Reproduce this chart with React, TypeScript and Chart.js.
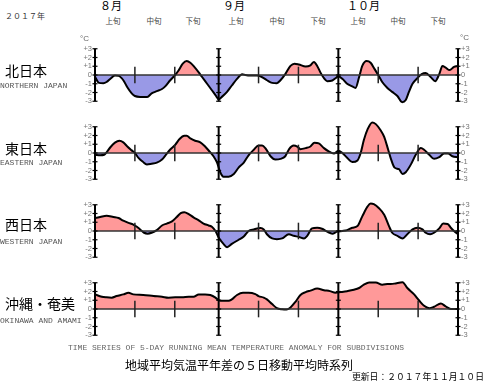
import React, { useEffect, useRef } from 'react';
import { Chart, registerables } from 'chart.js';

Chart.register(...registerables);

// ---- axis / marker data (day index: 0 = Aug 1, 91 = Oct 31) ----
const monthLines = [0, 31, 61, 91];
const decadeLines = [10, 20, 41, 51, 71, 81];
const yTicks = [-3, -2, -1, 0, 1, 2, 3];

// ---- 北日本 ----
const northDays = [0, 1.0, 2.1, 2.9, 3.8, 5.0, 5.9, 7.1, 8.1, 9.2, 10.0, 11.3, 13.1, 14.2, 15.5, 16.8, 17.6, 18.8, 20.1, 20.9, 22.0, 23.0, 23.9, 24.9, 26.0, 26.8, 28.1, 29.3, 30.2, 31.0, 31.8, 33.1, 34.3, 35.6, 36.9, 37.7, 38.9, 40.6, 41.9, 43.1, 44.4, 45.6, 46.5, 47.7, 49.0, 50.0, 51.1, 52.8, 54.0, 54.9, 55.7, 56.5, 57.4, 58.2, 59.5, 60.3, 61.0, 62.0, 63.2, 64.5, 65.3, 66.2, 67.0, 68.1, 69.1, 70.1, 71.0, 72.0, 73.3, 74.5, 75.8, 77.0, 77.9, 78.7, 79.6, 80.8, 81.9, 82.9, 84.2, 85.3, 86.3, 87.1, 87.9, 88.9, 90.0, 91];
const northVals = [-0.2, -0.9, -0.93, -0.8, -0.45, -0.07, -0.1, -0.6, -1.4, -2.1, -2.4, -2.5, -2.5, -2.1, -1.85, -1.6, -1.3, -0.63, 0, 0.48, 1.3, 1.6, 1.4, 0.93, 0.3, -0.2, -1.0, -1.74, -2.3, -2.78, -2.5, -1.93, -1.2, -0.44, 0.1, 0, -0.07, -0.07, -0.26, -0.6, -0.9, -0.93, -0.6, 0.1, 1.04, 1.3, 1.2, 0.96, 1.1, 1.5, 1.04, 0.3, -0.37, -0.7, -0.63, -0.37, -0.15, -0.44, -1.0, -1.3, -1.48, -0.26, 1.04, 1.6, 1.4, 0.67, 0, -0.8, -1.48, -1.93, -2.4, -3.1, -2.85, -1.93, -1.0, -0.37, 0.1, 0.22, -0.26, -0.7, 0.1, 1.04, 0.85, 0.56, 0.93, 1.04];

// ---- 東日本 ----
const eastDays = [0, 1.3, 2.3, 2.9, 3.8, 5.0, 6.1, 7.1, 8.1, 9.2, 10.0, 10.9, 12.0, 13.0, 14.2, 15.5, 16.8, 17.8, 18.8, 20.1, 21.2, 22.4, 23.0, 23.9, 25.1, 26.4, 27.6, 28.7, 29.7, 30.6, 31.4, 32.2, 33.5, 34.8, 36.0, 37.3, 38.5, 39.8, 41.0, 41.9, 42.7, 44.0, 45.2, 46.5, 47.7, 48.7, 49.8, 50.7, 51.5, 52.8, 54.0, 55.0, 56.1, 57.4, 58.6, 59.9, 61.0, 62.0, 63.2, 64.5, 65.8, 66.6, 67.4, 68.4, 69.5, 70.4, 71.6, 72.5, 73.5, 74.1, 75.1, 76.2, 77.1, 77.9, 79.2, 80.4, 81.7, 82.5, 83.8, 85.0, 86.3, 87.5, 88.5, 89.6, 91];
const eastVals = [-0.2, -0.26, -0.2, 0.07, 0.63, 1.18, 1.4, 1.22, 0.74, 0.3, 0, -0.55, -1.0, -1.3, -1.22, -1.1, -0.74, -0.19, 0.37, 0.93, 1.6, 1.96, 1.96, 1.67, 1.4, 1.22, 0.74, 0.18, -0.37, -1.1, -2.2, -2.7, -2.7, -2.4, -1.67, -1.1, -0.26, 0.37, 0.85, 0.85, 0.56, -0.37, -0.74, -0.67, -0.37, 0.48, 0.85, 0.74, 0.44, 0.56, 0.74, 1.18, 1.1, 0.56, 0.18, -0.07, 0.26, 0, -0.55, -1.04, -0.85, 0, 1.48, 2.78, 3.5, 3.3, 2.6, 1.85, 0.37, -0.55, -1.67, -1.85, -2.4, -2.2, -1.3, -0.2, 0.56, 0.37, -0.2, -0.67, -0.48, -0.07, -0.07, -0.37, -0.48];

// ---- 西日本 ----
const westDays = [0, 1.3, 2.9, 4.6, 5.9, 7.1, 8.4, 9.6, 10.5, 11.3, 12.3, 13.2, 14.2, 15.5, 16.8, 18.0, 19.3, 20.5, 21.5, 22.4, 23.5, 24.7, 26.0, 27.2, 28.5, 29.3, 30.2, 31.0, 32.2, 33.1, 34.3, 36.0, 37.3, 38.5, 39.8, 41.5, 42.3, 43.1, 44.4, 45.6, 46.9, 48.6, 49.8, 51.1, 52.4, 53.2, 54.4, 55.7, 56.9, 58.2, 59.5, 60.7, 62.0, 63.2, 64.5, 65.8, 67.0, 68.3, 69.1, 69.9, 71.2, 72.5, 73.7, 74.5, 75.8, 77.1, 78.3, 79.6, 80.8, 82.1, 82.9, 84.0, 85.0, 86.3, 87.3, 88.4, 89.2, 90.0, 91];
const westVals = [1.48, 1.6, 1.74, 1.6, 1.48, 1.18, 0.93, 0.74, 0.48, 0.18, -0.2, -0.3, -0.2, 0.1, 0.63, 0.85, 1.1, 1.6, 2.04, 2.15, 1.93, 1.56, 1.22, 0.85, 0.63, 0.48, 0, -0.74, -1.48, -1.85, -1.48, -1.0, -0.63, 0, 0.18, 0.33, 0.18, -0.37, -0.85, -0.93, -0.85, -0.37, -0.55, -0.67, -0.85, -0.55, 0.3, 0.37, 0.26, -0.07, -0.3, -0.07, 0, 0.1, 0.37, 0.56, 1.67, 2.78, 3.15, 3.07, 2.6, 1.85, 0.56, -0.2, -0.55, -0.85, -0.37, 0.18, 0.37, 0.18, -0.2, -0.37, -0.2, 0.3, 0.85, 0.81, 0.37, 0, -0.37];

// ---- 沖縄・奄美 ----
const okiDays = [0, 1.7, 2.9, 4.2, 5.4, 7.1, 8.4, 9.6, 12.1, 14.7, 16.8, 18.4, 20.1, 21.8, 23.5, 24.7, 26.0, 27.6, 28.9, 30.2, 31.0, 32.2, 33.5, 34.3, 35.6, 37.1, 38.5, 40.2, 41.0, 42.3, 43.1, 44.4, 45.6, 46.9, 48.0, 49.0, 50.3, 51.5, 52.8, 54.0, 55.7, 57.4, 58.9, 60.3, 61.6, 63.2, 64.9, 66.2, 67.4, 68.7, 70.4, 72.0, 73.3, 75.0, 77.1, 78.3, 80.0, 81.2, 82.5, 83.8, 85.0, 86.7, 87.9, 89.2, 91];
const okiVals = [1.67, 1.4, 1.33, 1.3, 1.48, 1.67, 1.85, 1.67, 1.6, 1.48, 1.4, 1.3, 1.33, 1.33, 1.4, 1.4, 1.67, 1.67, 1.6, 1.3, 1.0, 0.93, 0.93, 1.1, 1.6, 1.85, 1.85, 1.7, 1.48, 1.3, 1.1, 0.56, 0.1, -0.04, -0.07, 0.18, 0.85, 1.6, 1.93, 2.1, 2.33, 2.15, 2.04, 1.85, 1.93, 2.04, 2.2, 2.4, 2.78, 3.04, 3.04, 2.78, 2.85, 2.9, 3.07, 2.4, 1.67, 1.0, 0.37, 0.1, 0.26, 0.63, 0.3, 0, 0];

const jpFont = '"Noto Sans CJK JP", sans-serif';
const monoFont = '"Liberation Mono", "DejaVu Sans Mono", monospace';
const sansFont = '"Liberation Sans", "DejaVu Sans", sans-serif';

const decoPlugin = {
  id: 'deco',
  afterDatasetsDraw(chart: any) {
    const { ctx, scales } = chart;
    const x = scales.x;
    const y = scales.y;
    const y0 = y.getPixelForValue(0);
    ctx.save();
    ctx.strokeStyle = '#333';
    ctx.lineWidth = 1.5;
    ctx.beginPath();
    ctx.moveTo(x.getPixelForValue(monthLines[0]), y0);
    ctx.lineTo(x.getPixelForValue(monthLines[monthLines.length - 1]), y0);
    ctx.stroke();

    ctx.strokeStyle = '#222';
    ctx.lineWidth = 1.5;
    decadeLines.forEach((d) => {
      const px = x.getPixelForValue(d);
      ctx.beginPath();
      ctx.moveTo(px, y.getPixelForValue(0.95));
      ctx.lineTo(px, y.getPixelForValue(-0.95));
      ctx.stroke();
    });

    ctx.strokeStyle = '#000';
    monthLines.forEach((d) => {
      const px = x.getPixelForValue(d);
      ctx.lineWidth = 2;
      ctx.beginPath();
      ctx.moveTo(px, y.getPixelForValue(3));
      ctx.lineTo(px, y.getPixelForValue(-3));
      ctx.stroke();
      ctx.lineWidth = 1.2;
      yTicks.forEach((t) => {
        const py = y.getPixelForValue(t);
        ctx.beginPath();
        ctx.moveTo(px - 2.5, py);
        ctx.lineTo(px + 2.5, py);
        ctx.stroke();
      });
    });
    ctx.restore();
  },
};

function yAxis(position: 'left' | 'right') {
  return {
    position,
    min: -3.6,
    max: 3.6,
    afterBuildTicks: (s: any) => {
      s.ticks = yTicks.map((v) => ({ value: v }));
    },
    afterFit: (s: any) => {
      s.width = 20;
    },
    grid: { display: false, drawTicks: false },
    border: { display: false },
    ticks: {
      autoSkip: false,
      padding: 3,
      color: '#777',
      font: { family: sansFont, size: 7.5 },
      callback: (v: any) => (v > 0 ? '+' + v : String(v)),
    },
  };
}

function Panel({ days, vals, top }: { days: number[]; vals: number[]; top: number }) {
  const ref = useRef<HTMLCanvasElement>(null);
  useEffect(() => {
    const chart = new Chart(ref.current as HTMLCanvasElement, {
      type: 'line',
      data: {
        datasets: [
          {
            data: days.map((d, i) => ({ x: d, y: vals[i] })),
            borderColor: '#000',
            borderWidth: 2,
            pointRadius: 0,
            cubicInterpolationMode: 'monotone',
            fill: { target: 'origin', above: 'rgb(255,153,153)', below: 'rgb(153,153,230)' },
            clip: false,
          } as any,
        ],
      },
      options: {
        responsive: false,
        animation: false,
        events: [],
        layout: { padding: { left: 75, right: 6, top: 6, bottom: 6 } },
        plugins: { legend: { display: false }, tooltip: { enabled: false } },
        scales: {
          x: { type: 'linear', min: 0, max: 91, display: false },
          y: yAxis('left') as any,
          y2: yAxis('right') as any,
        },
      },
      plugins: [decoPlugin],
    });
    return () => chart.destroy();
  }, []);
  return (
    <canvas
      ref={ref}
      width={484}
      height={78}
      style={{ position: 'absolute', left: 0, top, width: 484, height: 78 }}
    />
  );
}

function T({ x, y, size, text, family = jpFont, color = '#000', center = false }: any) {
  return (
    <div
      style={{
        position: 'absolute',
        left: x,
        top: y - size * 0.6,
        fontSize: size,
        lineHeight: `${size * 1.2}px`,
        fontFamily: family,
        color,
        whiteSpace: 'nowrap',
        transform: center ? 'translateX(-50%)' : undefined,
      }}
    >
      {text}
    </div>
  );
}

const decadeNames = ['上旬', '中旬', '下旬', '上旬', '中旬', '下旬', '上旬', '中旬', '下旬'];
const decadeCenters = [113, 154, 193, 236, 277, 318, 358, 398, 438];

export default function App() {
  return (
    <div
      style={{
        position: 'absolute',
        left: 0,
        top: 0,
        width: 484,
        height: 382,
        background: '#fff',
        overflow: 'hidden',
      }}
    >
      <Panel days={northDays} vals={northVals} top={36} />
      <Panel days={eastDays} vals={eastVals} top={114} />
      <Panel days={westDays} vals={westVals} top={192} />
      <Panel days={okiDays} vals={okiVals} top={270} />

      <T x={5} y={16} size={8} text="２０１７年" color="#333" />
      <T x={100} y={6} size={11} text="８月" />
      <T x={223} y={6} size={11} text="９月" />
      <T x={347} y={6} size={11} text="１０月" />
      {decadeNames.map((n, i) => (
        <T key={i} x={decadeCenters[i]} y={20} size={7.5} text={n} color="#444" center />
      ))}
      <T x={80} y={39} size={8} text="°C" family={sansFont} color="#666" />
      <T x={460} y={38} size={8} text="°C" family={sansFont} color="#666" />

      <T x={5} y={70} size={14} text="北日本" />
      <T x={0} y={86} size={8} text="NORTHERN JAPAN" family={monoFont} color="#555" />
      <T x={5} y={148} size={14} text="東日本" />
      <T x={0} y={163} size={8} text="EASTERN JAPAN" family={monoFont} color="#555" />
      <T x={5} y={224} size={14} text="西日本" />
      <T x={0} y={242} size={8} text="WESTERN JAPAN" family={monoFont} color="#555" />
      <T x={5} y={303} size={14} text="沖縄・奄美" />
      <T x={0} y={321} size={8} text="OKINAWA AND AMAMI" family={monoFont} color="#555" />

      <T
        x={68}
        y={348}
        size={8}
        text="TIME SERIES OF 5-DAY RUNNING MEAN TEMPERATURE ANOMALY FOR SUBDIVISIONS"
        family={monoFont}
        color="#666"
      />
      <T x={125} y={365} size={12} text="地域平均気温平年差の５日移動平均時系列" />
      <T x={352} y={377} size={8.8} text="更新日：２０１７年１１月１０日" />
    </div>
  );
}
